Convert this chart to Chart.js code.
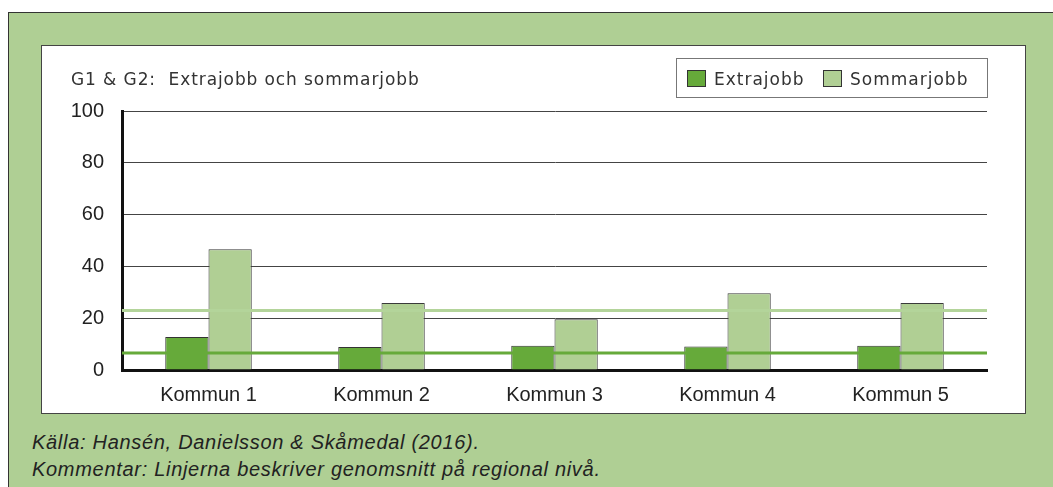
<!DOCTYPE html>
<html><head><meta charset="utf-8">
<script src="https://cdn.jsdelivr.net/npm/chart.js@4"></script>
<style>
html,body{margin:0;padding:0;background:#fff;width:1053px;height:487px;overflow:hidden;}
#outer{position:absolute;left:8px;top:12px;width:1060px;height:480px;background:#afcf94;border:1px solid #333;box-sizing:border-box;}
#inner{position:absolute;left:41px;top:45px;width:985px;height:369px;background:#fff;border:1px solid #444;box-sizing:border-box;}
#c{position:absolute;left:0;top:0;}
#title{position:absolute;left:29px;top:23px;font:17px "DejaVu Sans",Verdana,sans-serif;letter-spacing:0.9px;color:#333;white-space:nowrap;}
#legend{position:absolute;left:634px;top:12px;width:312px;height:40px;border:1px solid #777;box-sizing:border-box;font:17px "DejaVu Sans",Verdana,sans-serif;letter-spacing:1px;color:#333;}
.sw{position:absolute;top:11px;width:19px;height:17px;border:1px solid #333;box-sizing:border-box;}
.lt{position:absolute;top:10px;white-space:nowrap;}
.foot{position:absolute;left:32px;font:italic 20px "Liberation Sans",Arial,sans-serif;letter-spacing:0.7px;color:#222;white-space:nowrap;}
</style></head>
<body>
<div id="outer"></div>
<div id="inner">
  <canvas id="c" width="983" height="367"></canvas>
  <div id="title">G1 &amp; G2:&nbsp; Extrajobb och sommarjobb</div>
  <div id="legend">
    <div class="sw" style="left:10px;background:#66aa3a"></div><div class="lt" style="left:37px">Extrajobb</div>
    <div class="sw" style="left:146px;background:#b0cf94"></div><div class="lt" style="left:173px">Sommarjobb</div>
  </div>
</div>
<div class="foot" style="top:431px">Källa: Hansén, Danielsson &amp; Skåmedal (2016).</div>
<div class="foot" style="top:458px">Kommentar: Linjerna beskriver genomsnitt på regional nivå.</div>
<script>
const categories = ["Kommun 1","Kommun 2","Kommun 3","Kommun 4","Kommun 5"];
const extrajobb = [12.7, 8.9, 9.4, 9.1, 9.4];
const sommarjobb = [46.6, 25.9, 19.6, 29.6, 25.9];
const avgExtrajobb = 6.6;
const avgSommarjobb = 23.0;
const yTicks = [0,20,40,60,80,100];

const colDark = '#66aa3a', colLight = '#b0cf94';
const xMin = -0.5, xMax = categories.length - 0.5;
const pts = arr => arr.map((v,i)=>({x:i,y:v}));
const flat = v => [{x:xMin,y:v},{x:xMax,y:v}];
new Chart(document.getElementById('c'), {
  type: 'bar',
  data: {
    datasets: [
      {label:'Extrajobb', data:pts(extrajobb), backgroundColor:colDark, borderColor:'#333', borderWidth:1, barPercentage:1, categoryPercentage:0.5, order:1},
      {label:'Sommarjobb', data:pts(sommarjobb), backgroundColor:colLight, borderColor:'#3a3a3a', borderWidth:1, barPercentage:1, categoryPercentage:0.5, order:1},
      {type:'line', label:'avgS', data:flat(avgSommarjobb), borderColor:'#b3d49a', borderWidth:3, pointRadius:0, order:0},
      {type:'line', label:'avgE', data:flat(avgExtrajobb), borderColor:colDark, borderWidth:3, pointRadius:0, order:0}
    ]
  },
  options: {
    animation:false, responsive:false, events:[],
    layout:{padding:{top:65,right:38,left:0,bottom:0}},
    plugins:{legend:{display:false}, tooltip:{enabled:false}},
    scales:{
      x:{type:'linear', min:xMin, max:xMax, offset:false,
         afterBuildTicks:s=>{s.ticks=categories.map((c,i)=>({value:i}));},
         grid:{display:false}, border:{display:true,color:'#111',width:3},
         ticks:{callback:v=>categories[v], font:{family:'"Liberation Sans", Arial',size:20},color:'#222',padding:5, maxRotation:0, autoSkip:false},
         afterFit:s=>{s.height=43;}},
      y:{min:0,max:100, afterBuildTicks:s=>{s.ticks=yTicks.map(v=>({value:v}));},
         grid:{color:'#444',lineWidth:1,drawTicks:false}, border:{display:true,color:'#111',width:3},
         ticks:{font:{family:'"Liberation Sans", Arial',size:20},color:'#222',padding:18},
         afterFit:s=>{s.width=80;}}
    }
  }
});
</script>
</body></html>
